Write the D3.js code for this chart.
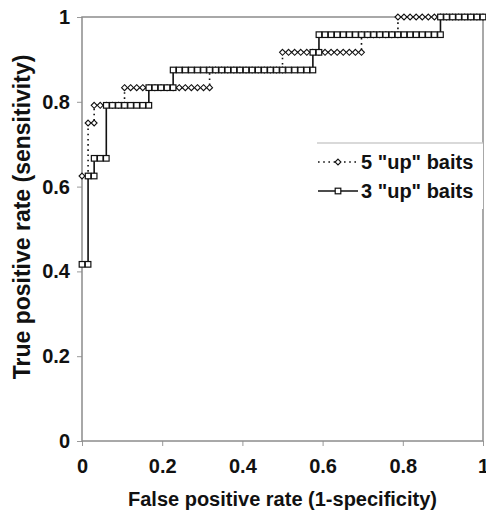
<!DOCTYPE html>
<html>
<head>
<meta charset="utf-8">
<script src="https://cdn.jsdelivr.net/npm/d3@7"></script>
<style>
  body { margin: 0; background: #fff; }
  text { font-family: "Liberation Sans", Arial, sans-serif; font-weight: bold; fill: #111; }
</style>
</head>
<body>
<div id="chart-area"></div>
<script>
// ROC curves, 24 positives / 66 negatives
var nPos = 24, nNeg = 66;

// [false positive count, true positive count]
var baits5 = [
  [0,15],[1,15],
  [1,18],[2,18],
  [2,19],[3,19],[4,19],[5,19],[6,19],[7,19],
  [7,20],[8,20],[9,20],[10,20],[11,20],[12,20],[13,20],[14,20],[15,20],[16,20],[17,20],[18,20],[19,20],[20,20],[21,20],
  [21,21],[22,21],[23,21],[24,21],[25,21],[26,21],[27,21],[28,21],[29,21],[30,21],[31,21],[32,21],[33,21],
  [33,22],[34,22],[35,22],[36,22],[37,22],[38,22],[39,22],[40,22],[41,22],[42,22],[43,22],[44,22],[45,22],[46,22],
  [46,23],[47,23],[48,23],[49,23],[50,23],[51,23],[52,23],
  [52,24],[53,24],[54,24],[55,24],[56,24],[57,24],[58,24],[59,24],[60,24],[61,24],[62,24],[63,24],[64,24],[65,24],[66,24]
];

var baits3 = [
  [0,10],[1,10],
  [1,15],[2,15],
  [2,16],[3,16],[4,16],
  [4,19],[5,19],[6,19],[7,19],[8,19],[9,19],[10,19],[11,19],
  [11,20],[12,20],[13,20],[14,20],[15,20],
  [15,21],[16,21],[17,21],[18,21],[19,21],[20,21],[21,21],[22,21],[23,21],[24,21],[25,21],[26,21],[27,21],
  [28,21],[29,21],[30,21],[31,21],[32,21],[33,21],[34,21],[35,21],[36,21],[37,21],[38,21],
  [38,22],[39,22],
  [39,23],[40,23],[41,23],[42,23],[43,23],[44,23],[45,23],[46,23],[47,23],[48,23],[49,23],[50,23],
  [51,23],[52,23],[53,23],[54,23],[55,23],[56,23],[57,23],[58,23],[59,23],
  [59,24],[60,24],[61,24],[62,24],[63,24],[64,24],[65,24],[66,24]
];

var tickValues = [0, 0.2, 0.4, 0.6, 0.8, 1];
var seriesNames = ['5 "up" baits', '3 "up" baits'];

const svgWidth = 486;
const svgHeight = 515;
var margin = {left:82, right:3, top:17, bottom:74};
var chartWidth = svgWidth - margin.left - margin.right,
    chartHeight = svgHeight - margin.top - margin.bottom;

var svg = d3.select("#chart-area")
    .append("svg")
        .attr("width", svgWidth)
        .attr("height", svgHeight)
    .append("g")
    .attr("transform", "translate("+margin.left+","+margin.top+")");

var x = d3.scaleLinear().domain([0, 1]).range([0, chartWidth]);
var y = d3.scaleLinear().domain([0, 1]).range([chartHeight, 0]);

// axes
var fmt = function(d){ return d === 0 || d === 1 ? d : d.toFixed(1); };
var xAxis = svg.append("g")
    .attr("transform", "translate(0,"+chartHeight+")")
    .call(d3.axisBottom(x).tickValues(tickValues).tickSize(5).tickPadding(13).tickFormat(fmt));
var yAxis = svg.append("g")
    .call(d3.axisLeft(y).tickValues(tickValues).tickSize(5).tickPadding(7).tickFormat(fmt));
[xAxis, yAxis].forEach(function(a){
    a.select(".domain").remove();
    a.selectAll("line").attr("stroke", "#999");
    a.selectAll("text").attr("font-size", "20px").attr("font-family", "Liberation Sans, Arial, sans-serif");
});

// plot frame
svg.append("rect")
    .attr("x", 0).attr("y", 0)
    .attr("width", chartWidth).attr("height", chartHeight)
    .attr("fill", "none")
    .attr("stroke", "#8c8c8c")
    .attr("stroke-width", 1.5);

var line = d3.line()
    .x(function(d){ return x(d[0]/nNeg); })
    .y(function(d){ return y(d[1]/nPos); });

// 5 up baits - dotted, diamonds
svg.append("path")
    .datum(baits5)
    .attr("d", line)
    .attr("fill", "none")
    .attr("stroke", "#111")
    .attr("stroke-width", 1.6)
    .attr("stroke-dasharray", "1.6,3.6");

var diamond = d3.symbol().type(d3.symbolDiamond2).size(22);
svg.selectAll(".dia")
    .data(baits5)
    .enter().append("path")
    .attr("class", "dia")
    .attr("d", diamond)
    .attr("transform", function(d){ return "translate("+x(d[0]/nNeg)+","+y(d[1]/nPos)+")"; })
    .attr("fill", "#fff")
    .attr("stroke", "#111")
    .attr("stroke-width", 1.1);

// 3 up baits - solid, squares
svg.append("path")
    .datum(baits3)
    .attr("d", line)
    .attr("fill", "none")
    .attr("stroke", "#111")
    .attr("stroke-width", 1.6);

svg.selectAll(".sq")
    .data(baits3)
    .enter().append("rect")
    .attr("class", "sq")
    .attr("x", function(d){ return x(d[0]/nNeg) - 2.8; })
    .attr("y", function(d){ return y(d[1]/nPos) - 2.8; })
    .attr("width", 5.6)
    .attr("height", 5.6)
    .attr("fill", "#fff")
    .attr("stroke", "#111")
    .attr("stroke-width", 1.2);

// legend
var legend = svg.append("g").attr("transform", "translate(235,126)");
legend.append("rect")
    .attr("x", 0).attr("y", 0)
    .attr("width", chartWidth - 235).attr("height", 66)
    .attr("fill", "#fff");
legend.append("line")
    .attr("x1", 0).attr("x2", chartWidth - 235)
    .attr("y1", 0).attr("y2", 0)
    .attr("stroke", "#ccc").attr("stroke-width", 1.5);

var rows = legend.selectAll(".row")
    .data(seriesNames)
    .enter().append("g")
    .attr("transform", function(d, i){ return "translate(0,"+(19 + i*29)+")"; });
rows.append("line")
    .attr("x1", 1).attr("x2", 41)
    .attr("stroke", "#111")
    .attr("stroke-width", 1.6)
    .attr("stroke-dasharray", function(d, i){ return i === 0 ? "1.6,3.6" : null; });
rows.filter(function(d, i){ return i === 0; }).append("path")
    .attr("d", diamond)
    .attr("transform", "translate(21,0)")
    .attr("fill", "#fff").attr("stroke", "#111").attr("stroke-width", 1.1);
rows.filter(function(d, i){ return i === 1; }).append("rect")
    .attr("x", 18.2).attr("y", -2.8).attr("width", 5.6).attr("height", 5.6)
    .attr("fill", "#fff").attr("stroke", "#111").attr("stroke-width", 1.2);
rows.append("text")
    .attr("x", 44)
    .attr("dy", "0.36em")
    .attr("font-size", "20px")
    .text(function(d){ return d; });

// axis labels
svg.append("text")
    .attr("x", chartWidth/2)
    .attr("y", chartHeight + 65)
    .attr("font-size", "20px")
    .attr("text-anchor", "middle")
    .text("False positive rate (1-specificity)");

svg.append("text")
    .attr("x", -(chartHeight/2) + 12)
    .attr("y", -margin.left + 30)
    .attr("font-size", "23px")
    .attr("text-anchor", "middle")
    .attr("transform", "rotate(-90)")
    .text("True positive rate (sensitivity)");
</script>
</body>
</html>
